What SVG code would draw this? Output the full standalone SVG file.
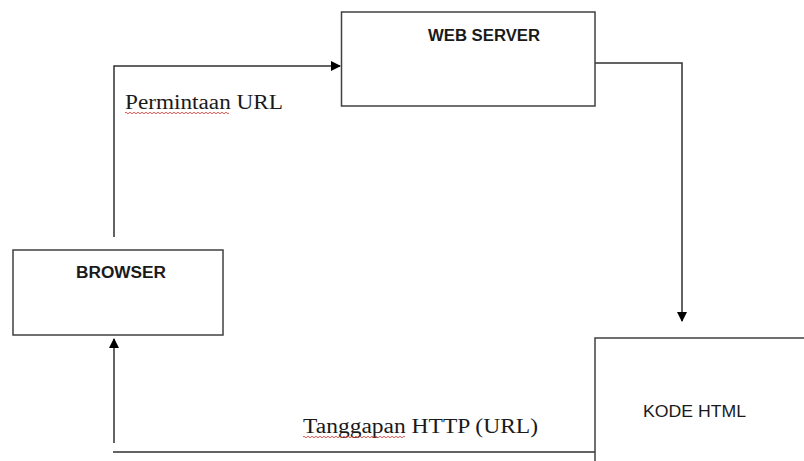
<svg xmlns="http://www.w3.org/2000/svg" width="804" height="461" viewBox="0 0 804 461">
<style>
.box{fill:#fff;stroke:#404040;stroke-width:1.5}
.ln{fill:none;stroke:#303030;stroke-width:1.5}
.lbl{font-family:"Liberation Sans",Arial,sans-serif;font-size:16px;fill:#1a1a1a;text-anchor:middle}
.b{font-weight:bold}
.cap{font-family:"Liberation Serif","Times New Roman",serif;font-size:20px;fill:#1a1a1a}
.sq{fill:none;stroke:#d03030;stroke-width:0.8}
</style>
<defs>
<marker id="ah" markerWidth="10" markerHeight="10" refX="9" refY="5" orient="auto" markerUnits="userSpaceOnUse">
<path d="M0,0 L10,5 L0,10 Z" fill="#000"/>
</marker>
</defs>
<rect width="804" height="461" fill="#fff"/>
<g id="connectors">
<path class="ln" d="M114,237 V66 H340" marker-end="url(#ah)"/>
<path class="ln" d="M595,63 H682 V321" marker-end="url(#ah)"/>
<path class="ln" d="M113,452 H595"/>
<path class="ln" d="M114,443 V339" marker-end="url(#ah)"/>
</g>
<g id="webserver">
<rect class="box" x="341.5" y="12" width="253.5" height="94"/>
<text class="lbl b" x="484" y="41" textLength="112" lengthAdjust="spacingAndGlyphs">WEB SERVER</text>
</g>
<g id="browser">
<rect class="box" x="13" y="250" width="210" height="85"/>
<text class="lbl b" x="121" y="278" textLength="90" lengthAdjust="spacingAndGlyphs">BROWSER</text>
</g>
<g id="kodehtml">
<rect class="box" x="595" y="338" width="220" height="140"/>
<text class="lbl" x="694.5" y="417" textLength="103" lengthAdjust="spacingAndGlyphs">KODE HTML</text>
</g>
<g id="labels">
<text class="cap" x="125" y="109" textLength="158" lengthAdjust="spacingAndGlyphs">Permintaan URL</text>
<path class="sq" d="M125,113 q1,-1.5 2,0 t2,0 t2,0 t2,0 t2,0 t2,0 t2,0 t2,0 t2,0 t2,0 t2,0 t2,0 t2,0 t2,0 t2,0 t2,0 t2,0 t2,0 t2,0 t2,0 t2,0 t2,0 t2,0 t2,0 t2,0 t2,0 t2,0 t2,0 t2,0 t2,0 t2,0 t2,0 t2,0 t2,0 t2,0 t2,0 t2,0 t2,0 t2,0 t2,0 t2,0 t2,0 t2,0 t2,0 t2,0 t2,0 t2,0 t2,0 t2,0 t2,0 t2,0 t2,0"/>
<text class="cap" x="303" y="433" textLength="235" lengthAdjust="spacingAndGlyphs">Tanggapan HTTP (URL)</text>
<path class="sq" d="M303,437 q1,-1.5 2,0 t2,0 t2,0 t2,0 t2,0 t2,0 t2,0 t2,0 t2,0 t2,0 t2,0 t2,0 t2,0 t2,0 t2,0 t2,0 t2,0 t2,0 t2,0 t2,0 t2,0 t2,0 t2,0 t2,0 t2,0 t2,0 t2,0 t2,0 t2,0 t2,0 t2,0 t2,0 t2,0 t2,0 t2,0 t2,0 t2,0 t2,0 t2,0 t2,0 t2,0 t2,0 t2,0 t2,0 t2,0 t2,0 t2,0 t2,0 t2,0 t2,0 t2,0"/>
</g>
</svg>
